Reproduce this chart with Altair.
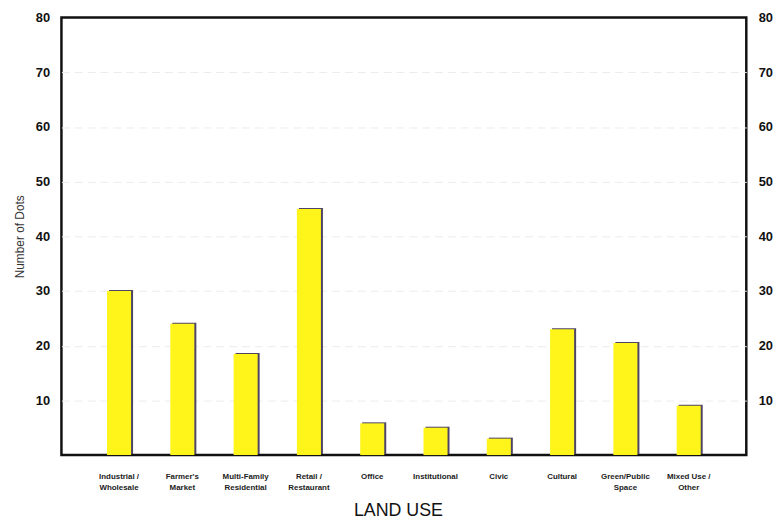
import altair as alt
import pandas as pd

categories = ["Industrial /|Wholesale", "Farmer's|Market", "Multi-Family|Residential",
              "Retail /|Restaurant", "Office", "Institutional", "Civic", "Cultural",
              "Green/Public|Space", "Mixed Use /|Other"]
values = [30, 24, 18.5, 45, 5.8, 5, 3, 23, 20.5, 9]
tick_values = [10, 20, 30, 40, 50, 60, 70, 80]

df = pd.DataFrame({"cat": categories, "val": values})

xscale = alt.Scale(paddingInner=0.62, paddingOuter=0.72)
yscale = alt.Scale(domain=[0, 80], nice=False)

FONT = "Liberation Sans"

xenc = alt.X("cat:N", sort=categories, scale=xscale,
             axis=alt.Axis(title="LAND USE", labelExpr="split(datum.value, '|')",
                           labelAngle=0, labelFontSize=8, labelFontWeight="bold",
                           labelLineHeight=11, labelPadding=18, labelColor="#222",
                           labelBaseline="top",
                           ticks=False, domain=False, grid=False,
                           titleFontSize=18, titleFontWeight="normal", titleColor="#111",
                           titlePadding=10, titleX=340, titleFont=FONT, labelFont=FONT))

shadow = alt.Chart(df).mark_bar(color="#4d4466", xOffset=2, yOffset=-1).encode(
    x=xenc,
    y=alt.Y("val:Q", scale=yscale,
            axis=alt.Axis(title="Number of Dots", values=tick_values, orient="left",
                          labelFontSize=13, labelFontWeight="bold", labelColor="#111",
                          labelPadding=12, ticks=False, tickSize=0, domain=False,
                          grid=True, gridColor="#ececec", gridDash=[8, 5], gridWidth=1,
                          gridOpacity=alt.ExprRef("datum.value == 80 ? 0 : 1"),
                          titleFontSize=12, titleFontWeight="normal", titleColor="#333",
                          titlePadding=9, titleFont=FONT, labelFont=FONT)),
)

bars = alt.Chart(df).mark_bar(color="#fff51a").encode(
    x=alt.X("cat:N", sort=categories, scale=xscale),
    y=alt.Y("val:Q", scale=yscale,
            axis=alt.Axis(title=None, values=tick_values, orient="right",
                          labelFontSize=13, labelFontWeight="bold", labelColor="#111",
                          labelPadding=12, ticks=False, tickSize=0, domain=False,
                          grid=False, labelFont=FONT)),
)

chart = alt.layer(shadow, bars).resolve_scale(y="independent").properties(
    width=692, height=442,
    background="white",
    autosize=alt.AutoSizeParams(type="none"),
    padding={"left": 54, "top": 7, "right": 29, "bottom": 70},
).configure_view(stroke="#111", strokeWidth=2.5)

chart.save("out.html", embed_options={"renderer": "svg", "actions": False})
